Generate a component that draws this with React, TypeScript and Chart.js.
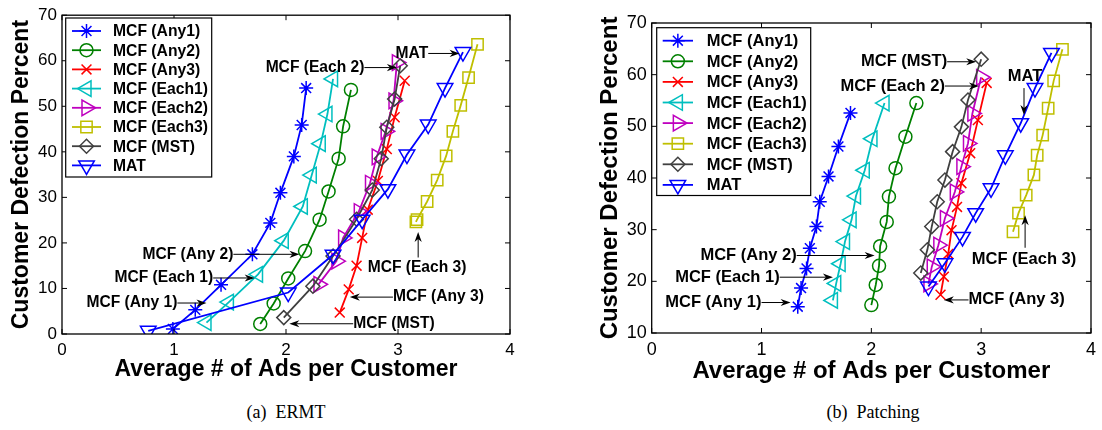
import { useEffect, useRef } from 'react';
import { Chart, registerables } from 'chart.js';
import { drawPoint } from 'chart.js/helpers';

Chart.register(...registerables);

const SANS = '"Liberation Sans", Arial, Helvetica, sans-serif';
const SERIF = '"Liberation Serif", "Times New Roman", Times, serif';

// Legend labels, in plotting order
const seriesLabels = [
  'MCF (Any1)', 'MCF (Any2)', 'MCF (Any3)', 'MCF (Each1)',
  'MCF (Each2)', 'MCF (Each3)', 'MCF (MST)', 'MAT',
];

// Tick values
const xTickValues = [0, 1, 2, 3, 4];
const ermtYTickValues = [0, 10, 20, 30, 40, 50, 60, 70];
const patchYTickValues = [10, 20, 30, 40, 50, 60, 70];

// (a) ERMT: average ads per customer (x) vs. customer defection percent (y)
const ermtAny1X = [0.99, 1.19, 1.42, 1.70, 1.86, 1.95, 2.07, 2.14, 2.18];
const ermtAny1Y = [1.1, 5.3, 10.8, 17.5, 24.4, 31.0, 39.0, 45.9, 54.0];
const ermtAny2X = [1.77, 1.89, 2.02, 2.17, 2.30, 2.38, 2.47, 2.51, 2.58];
const ermtAny2Y = [2.2, 6.7, 12.2, 18.2, 25.1, 31.3, 38.5, 45.6, 53.6];
const ermtAny3X = [2.48, 2.56, 2.63, 2.68, 2.73, 2.82, 2.90, 2.97, 3.06];
const ermtAny3Y = [4.7, 9.8, 15.0, 21.1, 27.3, 33.6, 40.6, 47.6, 55.6];
const ermtEach1X = [1.29, 1.49, 1.75, 1.98, 2.15, 2.23, 2.31, 2.37, 2.42];
const ermtEach1Y = [2.5, 7.0, 13.1, 20.5, 28.0, 34.9, 41.8, 48.3, 56.0];
const ermtEach2X = [2.29, 2.45, 2.51, 2.65, 2.75, 2.81, 2.89, 2.96, 2.99];
const ermtEach2Y = [10.9, 16.0, 21.1, 26.9, 33.1, 38.9, 44.5, 51.2, 59.6];
const ermtEach3X = [3.16, 3.17, 3.26, 3.35, 3.43, 3.49, 3.56, 3.63, 3.71];
const ermtEach3Y = [24.6, 25.1, 29.1, 33.8, 39.1, 44.5, 50.2, 56.3, 63.6];
const ermtMstX = [1.98, 2.24, 2.42, 2.63, 2.77, 2.85, 2.90, 2.97, 3.02];
const ermtMstY = [3.6, 10.5, 17.1, 25.2, 31.6, 38.5, 45.4, 51.6, 58.9];
const ermtMatX = [0.77, 2.02, 2.42, 2.68, 2.91, 3.08, 3.27, 3.42, 3.58];
const ermtMatY = [0.7, 9.1, 17.4, 25.1, 31.8, 39.4, 46.0, 54.0, 61.9];

// (b) Patching
const patchAny1X = [1.33, 1.36, 1.41, 1.44, 1.50, 1.53, 1.61, 1.70, 1.81];
const patchAny1Y = [15.1, 18.7, 22.5, 26.4, 30.6, 35.4, 40.3, 46.1, 52.6];
const patchAny2X = [2.00, 2.04, 2.07, 2.08, 2.14, 2.16, 2.22, 2.31, 2.41];
const patchAny2Y = [15.4, 19.3, 23.0, 26.8, 31.5, 36.4, 41.9, 48.0, 54.5];
const patchAny3X = [2.63, 2.66, 2.70, 2.73, 2.78, 2.82, 2.90, 2.97, 3.05];
const patchAny3Y = [17.4, 20.9, 25.3, 29.9, 34.4, 39.0, 44.8, 51.2, 58.4];
const patchEach1X = [1.65, 1.68, 1.72, 1.76, 1.82, 1.86, 1.94, 2.01, 2.12];
const patchEach1Y = [16.3, 19.6, 23.4, 27.7, 31.9, 36.5, 41.5, 47.6, 54.5];
const patchEach2X = [2.52, 2.55, 2.61, 2.67, 2.76, 2.82, 2.88, 2.92, 3.00];
const patchEach2Y = [19.5, 22.8, 27.0, 32.2, 37.3, 42.2, 46.7, 52.5, 59.5];
const patchEach3X = [3.29, 3.34, 3.41, 3.48, 3.51, 3.56, 3.61, 3.66, 3.74];
const patchEach3Y = [29.6, 33.2, 36.7, 40.6, 44.4, 48.3, 53.5, 58.8, 64.9];
const patchMstX = [2.45, 2.51, 2.55, 2.60, 2.67, 2.74, 2.82, 2.88, 3.00];
const patchMstY = [21.6, 26.1, 30.6, 35.4, 39.6, 45.1, 49.9, 55.1, 63.0];
const patchMatX = [2.52, 2.67, 2.83, 2.95, 3.09, 3.22, 3.36, 3.49, 3.64];
const patchMatY = [19.0, 23.5, 28.6, 33.2, 38.0, 44.4, 50.6, 57.4, 64.2];

// Callout labels: text anchor (tx, ty) and arrow from (ax1, ay1) to (ax2, ay2), in data units
type Callout = { text: string; tx: number; ty: number; align: CanvasTextAlign; ax1: number; ay1: number; ax2: number; ay2: number };

const ermtCallouts: Callout[] = [
  { text: 'MCF (Each 2)', tx: 2.70, ty: 58.5, align: 'right', ax1: 2.70, ay1: 58.5, ax2: 2.99, ay2: 58.5 },
  { text: 'MAT', tx: 3.27, ty: 61.6, align: 'right', ax1: 3.27, ay1: 61.6, ax2: 3.55, ay2: 61.6 },
  { text: 'MCF (Any 2)', tx: 1.53, ty: 17.5, align: 'right', ax1: 1.53, ay1: 17.5, ax2: 2.12, ay2: 17.5 },
  { text: 'MCF (Each 1)', tx: 1.35, ty: 12.3, align: 'right', ax1: 1.35, ay1: 12.3, ax2: 1.72, ay2: 12.3 },
  { text: 'MCF (Any 1)', tx: 1.03, ty: 6.8, align: 'right', ax1: 1.03, ay1: 6.8, ax2: 1.29, ay2: 6.8 },
  { text: 'MCF (Each 3)', tx: 3.17, ty: 14.5, align: 'center', ax1: 3.18, ay1: 16.8, ax2: 3.18, ay2: 22.4 },
  { text: 'MCF (Any 3)', tx: 2.955, ty: 8.1, align: 'left', ax1: 2.955, ay1: 8.1, ax2: 2.57, ay2: 8.1 },
  { text: 'MCF (MST)', tx: 2.60, ty: 2.25, align: 'left', ax1: 2.60, ay1: 2.25, ax2: 2.03, ay2: 2.25 },
];

const patchCallouts: Callout[] = [
  { text: 'MCF (MST)', tx: 2.69, ty: 62.5, align: 'right', ax1: 2.69, ay1: 62.5, ax2: 2.955, ay2: 62.5 },
  { text: 'MCF (Each 2)', tx: 2.67, ty: 57.8, align: 'right', ax1: 2.67, ay1: 57.8, ax2: 2.98, ay2: 57.8 },
  { text: 'MAT', tx: 3.40, ty: 59.7, align: 'center', ax1: 3.39, ay1: 57.4, ax2: 3.39, ay2: 52.2 },
  { text: 'MCF (Each 3)', tx: 3.39, ty: 24.3, align: 'center', ax1: 3.40, ay1: 26.5, ax2: 3.40, ay2: 32.8 },
  { text: 'MCF (Any 3)', tx: 2.885, ty: 16.4, align: 'left', ax1: 2.885, ay1: 16.4, ax2: 2.66, ay2: 16.4 },
  { text: 'MCF (Any 2)', tx: 1.32, ty: 25.0, align: 'right', ax1: 1.32, ay1: 25.0, ax2: 2.03, ay2: 25.0 },
  { text: 'MCF (Each 1)', tx: 1.165, ty: 20.8, align: 'right', ax1: 1.165, ay1: 20.8, ax2: 1.65, ay2: 20.8 },
  { text: 'MCF (Any 1)', tx: 1.00, ty: 15.9, align: 'right', ax1: 1.00, ay1: 15.9, ax2: 1.265, ay2: 15.9 },
];

// Line colour and marker of each series
const seriesStyles = [
  { color: '#0000ff', pointStyle: 'star', rotation: 0, radius: 7 },
  { color: '#008000', pointStyle: 'circle', rotation: 0, radius: 6.5 },
  { color: '#ff0000', pointStyle: 'crossRot', rotation: 0, radius: 7 },
  { color: '#00bfbf', pointStyle: 'triangle', rotation: -90, radius: 9 },
  { color: '#bf00bf', pointStyle: 'triangle', rotation: 90, radius: 9 },
  { color: '#bfbf00', pointStyle: 'rect', rotation: 0, radius: 8 },
  { color: '#404040', pointStyle: 'rectRot', rotation: 0, radius: 7 },
  { color: '#0000ff', pointStyle: 'triangle', rotation: 180, radius: 9 },
];

const ermtSeries = [
  [ermtAny1X, ermtAny1Y], [ermtAny2X, ermtAny2Y], [ermtAny3X, ermtAny3Y], [ermtEach1X, ermtEach1Y],
  [ermtEach2X, ermtEach2Y], [ermtEach3X, ermtEach3Y], [ermtMstX, ermtMstY], [ermtMatX, ermtMatY],
];
const patchSeries = [
  [patchAny1X, patchAny1Y], [patchAny2X, patchAny2Y], [patchAny3X, patchAny3Y], [patchEach1X, patchEach1Y],
  [patchEach2X, patchEach2Y], [patchEach3X, patchEach3Y], [patchMstX, patchMstY], [patchMatX, patchMatY],
];

type PanelSpec = {
  left: number; width: number; height: number;
  pad: { left: number; right: number; top: number; bottom: number };
  yAxisWidth: number; xAxisHeight: number;
  yMin: number; yMax: number; yTicks: number[];
  tickSize: number; titleSize: number; calloutSize: number; legendSize: number;
  yTitlePad: number; xTitlePad: number;
  legend: { x0: number; y0: number; x1: number; y1: number; rowY: number; rowStep: number; lineX0: number; lineX1: number; textX: number };
  series: number[][][];
  callouts: Callout[];
  caption: string; captionX: number;
};

const panels: PanelSpec[] = [
  {
    left: 0, width: 551, height: 395,
    pad: { left: 0, right: 41, top: 13.3, bottom: 0 },
    yAxisWidth: 62, xAxisHeight: 61,
    yMin: 0, yMax: 70, yTicks: ermtYTickValues,
    tickSize: 17, titleSize: 23, calloutSize: 15.6, legendSize: 15.7,
    yTitlePad: 8.2, xTitlePad: 11.2,
    legend: { x0: 65.7, y0: 18, x1: 211.7, y1: 177, rowY: 31, rowStep: 19.2, lineX0: 72, lineX1: 101, textX: 113 },
    series: ermtSeries, callouts: ermtCallouts,
    caption: '(a)  ERMT', captionX: 286,
  },
  {
    left: 551, width: 551, height: 395,
    pad: { left: 0, right: 3.7, top: 23, bottom: 0 },
    yAxisWidth: 100.7, xAxisHeight: 62,
    yMin: 10, yMax: 70, yTicks: patchYTickValues,
    tickSize: 18, titleSize: 24, calloutSize: 16.5, legendSize: 16.5,
    yTitlePad: 44.6, xTitlePad: 9.6,
    legend: { x0: 105.7, y0: 27.7, x1: 259.7, y1: 195.5, rowY: 40.7, rowStep: 20.6, lineX0: 111.7, lineX1: 142, textX: 155.7 },
    series: patchSeries, callouts: patchCallouts,
    caption: '(b)  Patching', captionX: 873,
  },
];

function drawArrow(ctx: CanvasRenderingContext2D, x1: number, y1: number, x2: number, y2: number) {
  const ang = Math.atan2(y2 - y1, x2 - x1);
  const len = 10;
  const half = 3.6;
  const bx = x2 - Math.cos(ang) * len;
  const by = y2 - Math.sin(ang) * len;
  ctx.beginPath();
  ctx.moveTo(x1, y1);
  ctx.lineTo(bx + Math.cos(ang) * 3, by + Math.sin(ang) * 3);
  ctx.stroke();
  ctx.beginPath();
  ctx.moveTo(x2, y2);
  ctx.lineTo(bx - Math.sin(ang) * half, by + Math.cos(ang) * half);
  ctx.lineTo(bx + Math.cos(ang) * 3, by + Math.sin(ang) * 3);
  ctx.lineTo(bx + Math.sin(ang) * half, by - Math.cos(ang) * half);
  ctx.closePath();
  ctx.fill();
}

function makeDecor(spec: PanelSpec) {
  return {
    id: 'decor',
    afterDatasetsDraw(chart: any) {
      const { ctx, chartArea: a } = chart;
      const xs = chart.scales.x;
      const ys = chart.scales.y;
      ctx.save();

      // Axes box and inward tick marks
      ctx.strokeStyle = '#000';
      ctx.lineWidth = 1.3;
      ctx.strokeRect(a.left, a.top, a.right - a.left, a.bottom - a.top);
      const tl = 5;
      ctx.lineWidth = 1;
      ctx.beginPath();
      for (const v of xTickValues) {
        const px = xs.getPixelForValue(v);
        ctx.moveTo(px, a.bottom); ctx.lineTo(px, a.bottom - tl);
        ctx.moveTo(px, a.top); ctx.lineTo(px, a.top + tl);
      }
      for (const v of spec.yTicks) {
        const py = ys.getPixelForValue(v);
        ctx.moveTo(a.left, py); ctx.lineTo(a.left + tl, py);
        ctx.moveTo(a.right, py); ctx.lineTo(a.right - tl, py);
      }
      ctx.stroke();

      // Callouts
      ctx.font = `bold ${spec.calloutSize}px ${SANS}`;
      ctx.fillStyle = '#000';
      ctx.strokeStyle = '#000';
      ctx.textBaseline = 'middle';
      for (const c of spec.callouts) {
        ctx.textAlign = c.align;
        ctx.fillText(c.text, xs.getPixelForValue(c.tx), ys.getPixelForValue(c.ty));
        ctx.lineWidth = 1;
        drawArrow(ctx,
          xs.getPixelForValue(c.ax1), ys.getPixelForValue(c.ay1),
          xs.getPixelForValue(c.ax2), ys.getPixelForValue(c.ay2));
      }

      // Legend box
      const L = spec.legend;
      ctx.fillStyle = '#fff';
      ctx.fillRect(L.x0, L.y0, L.x1 - L.x0, L.y1 - L.y0);
      ctx.strokeStyle = '#000';
      ctx.lineWidth = 1.2;
      ctx.strokeRect(L.x0, L.y0, L.x1 - L.x0, L.y1 - L.y0);
      ctx.font = `bold ${spec.legendSize}px ${SANS}`;
      ctx.textAlign = 'left';
      ctx.textBaseline = 'middle';
      seriesLabels.forEach((label, i) => {
        const st = seriesStyles[i];
        const y = L.rowY + i * L.rowStep;
        ctx.strokeStyle = st.color;
        ctx.lineWidth = 1.8;
        ctx.beginPath();
        ctx.moveTo(L.lineX0, y); ctx.lineTo(L.lineX1, y);
        ctx.stroke();
        ctx.lineWidth = 1.5;
        ctx.fillStyle = 'rgba(0,0,0,0)';
        drawPoint(ctx, { pointStyle: st.pointStyle as any, rotation: st.rotation, radius: st.radius, borderWidth: 1.5 }, (L.lineX0 + L.lineX1) / 2, y);
        ctx.fillStyle = '#000';
        ctx.fillText(label, L.textX, y + 1);
      });

      ctx.restore();
    },
  };
}

function buildConfig(spec: PanelSpec): any {
  const datasets = spec.series.map(([xv, yv], i) => {
    const st = seriesStyles[i];
    return {
      label: seriesLabels[i],
      data: xv.map((x, k) => ({ x, y: yv[k] })),
      showLine: true,
      borderColor: st.color,
      backgroundColor: 'rgba(0,0,0,0)',
      borderWidth: 1.8,
      pointStyle: st.pointStyle,
      rotation: st.rotation,
      pointRadius: st.radius,
      pointBorderWidth: 1.5,
      pointBorderColor: st.color,
      pointBackgroundColor: 'rgba(0,0,0,0)',
      tension: 0,
      order: -i,
    };
  });
  const tickFont = { family: SANS, size: spec.tickSize };
  const titleFont = { family: SANS, size: spec.titleSize, weight: 'bold' as const };
  return {
    type: 'scatter',
    data: { datasets },
    options: {
      animation: false,
      responsive: false,
      maintainAspectRatio: false,
      layout: { autoPadding: false, padding: spec.pad },
      plugins: { legend: { display: false }, tooltip: { enabled: false } },
      scales: {
        x: {
          type: 'linear', min: 0, max: 4,
          afterBuildTicks: (s: any) => { s.ticks = xTickValues.map((v) => ({ value: v })); },
          ticks: { font: tickFont, color: '#000', padding: 6, maxRotation: 0, autoSkip: false },
          grid: { display: false, drawTicks: false },
          border: { display: false },
          title: { display: true, text: 'Average # of Ads per Customer', font: titleFont, color: '#000', padding: { top: 0, bottom: spec.xTitlePad } },
          afterFit: (s: any) => { s.height = spec.xAxisHeight; },
        },
        y: {
          type: 'linear', min: spec.yMin, max: spec.yMax,
          afterBuildTicks: (s: any) => { s.ticks = spec.yTicks.map((v) => ({ value: v })); },
          ticks: { font: tickFont, color: '#000', padding: 5, autoSkip: false },
          grid: { display: false, drawTicks: false },
          border: { display: false },
          title: { display: true, text: 'Customer Defection Percent', font: titleFont, color: '#000', padding: { top: spec.yTitlePad, bottom: 0 } },
          afterFit: (s: any) => { s.width = spec.yAxisWidth; },
        },
      },
    },
    plugins: [makeDecor(spec)],
  };
}

function Panel({ spec }: { spec: PanelSpec }) {
  const ref = useRef<HTMLCanvasElement>(null);
  useEffect(() => {
    const chart = new Chart(ref.current as HTMLCanvasElement, buildConfig(spec));
    return () => chart.destroy();
  }, [spec]);
  return (
    <canvas
      ref={ref}
      width={spec.width}
      height={spec.height}
      style={{ position: 'absolute', left: spec.left, top: 0, width: spec.width, height: spec.height }}
    />
  );
}

export default function App() {
  return (
    <div style={{ position: 'absolute', left: 0, top: 0, width: 1102, height: 430, background: '#fff', overflow: 'hidden' }}>
      {panels.map((p, i) => (
        <Panel key={i} spec={p} />
      ))}
      {panels.map((p, i) => (
        <div
          key={'c' + i}
          style={{
            position: 'absolute', left: p.captionX - 150, width: 300, top: 400, height: 24,
            lineHeight: '24px', textAlign: 'center', fontFamily: SERIF, fontSize: 18, color: '#000', whiteSpace: 'pre',
          }}
        >
          {p.caption}
        </div>
      ))}
    </div>
  );
}
